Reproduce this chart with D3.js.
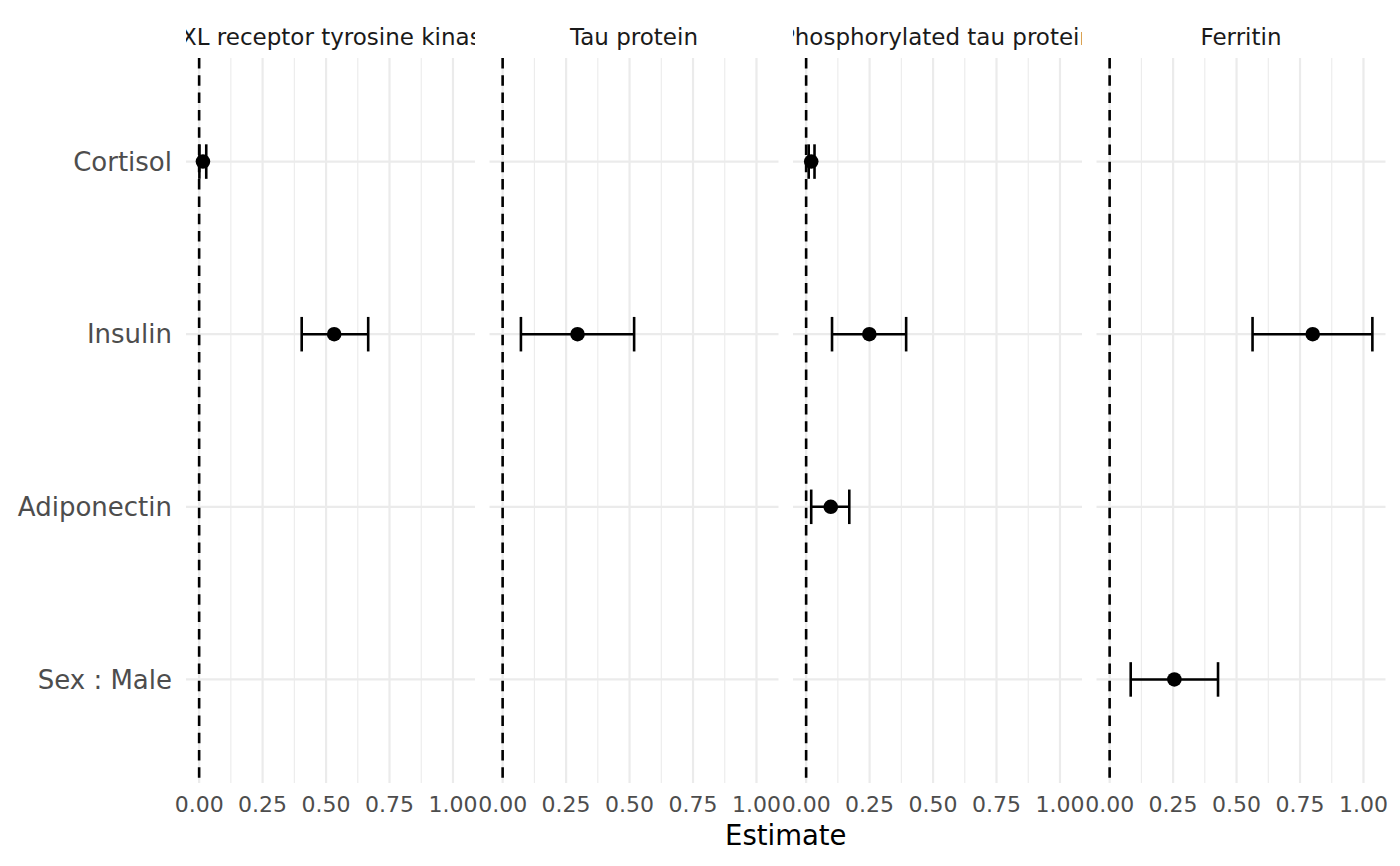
<!DOCTYPE html>
<html lang="en">
<head>
    <meta charset="UTF-8" />
    <title>Estimates by outcome</title>
    <script src="https://d3js.org/d3.v7.min.js"></script>
    <style>
        body { margin: 0; background: #fff; }
        text { font-family: "DejaVu Sans", sans-serif; }
    </style>
</head>
<body>
    <div id="chart"></div>
    <script>
// facets, terms and the estimates
var outcomes = ["AXL receptor tyrosine kinase", "Tau protein", "Phosphorylated tau protein", "Ferritin"];
var terms = ["Cortisol", "Insulin", "Adiponectin", "Sex : Male"];

var rowOutcome  = ["AXL receptor tyrosine kinase", "AXL receptor tyrosine kinase", "Tau protein",
                   "Phosphorylated tau protein", "Phosphorylated tau protein", "Phosphorylated tau protein",
                   "Ferritin", "Ferritin"];
var rowTerm     = ["Cortisol", "Insulin", "Insulin", "Cortisol", "Insulin", "Adiponectin", "Insulin", "Sex : Male"];
var rowEstimate = [0.015, 0.532, 0.295, 0.020, 0.249, 0.097, 0.800, 0.255];
var rowLower    = [0.001, 0.404, 0.072, 0.010, 0.102, 0.020, 0.563, 0.083];
var rowUpper    = [0.028, 0.666, 0.518, 0.033, 0.394, 0.170, 1.035, 0.427];

var xTicks = [0, 0.25, 0.5, 0.75, 1];
var xMinor = [0.125, 0.375, 0.625, 0.875];

var rows = rowTerm.map(function(t, i) {
    return { outcome: rowOutcome[i], term: t, est: rowEstimate[i], lo: rowLower[i], hi: rowUpper[i] };
});

var width = 1400, height = 866;
var panelLeft = 186, panelTop = 58, panelBottom = 783;
var panelW = 289, gap = 14.5;

var svg = d3.select("#chart").append("svg")
    .attr("width", width)
    .attr("height", height);

// shared x domain, ggplot style 5% expansion
var xmin = Math.min(0, d3.min(rowLower)), xmax = Math.max(0, d3.max(rowUpper));
var pad = (xmax - xmin) * 0.05;
var x = d3.scaleLinear().domain([xmin - pad, xmax + pad]).range([0, panelW]);

// discrete y with 0.6 expansion
var step = (panelBottom - panelTop) / (terms.length - 1 + 1.2);
var y = d3.scalePoint().domain(terms).range([panelTop + 0.6 * step, panelBottom - 0.6 * step]);

outcomes.forEach(function(outcome, p) {
    var x0 = panelLeft + p * (panelW + gap);
    var g = svg.append("g").attr("transform", "translate(" + x0 + ",0)");

    // minor grid
    g.selectAll(".minor").data(xMinor).enter().append("line")
        .attr("x1", function(d) { return x(d); }).attr("x2", function(d) { return x(d); })
        .attr("y1", panelTop).attr("y2", panelBottom)
        .attr("stroke", "#ebebeb").attr("stroke-width", 1.1);

    // major grid
    g.selectAll(".major").data(xTicks).enter().append("line")
        .attr("x1", function(d) { return x(d); }).attr("x2", function(d) { return x(d); })
        .attr("y1", panelTop).attr("y2", panelBottom)
        .attr("stroke", "#ebebeb").attr("stroke-width", 2.2);

    g.selectAll(".hgrid").data(terms).enter().append("line")
        .attr("x1", 0).attr("x2", panelW)
        .attr("y1", function(d) { return y(d); }).attr("y2", function(d) { return y(d); })
        .attr("stroke", "#ebebeb").attr("stroke-width", 2.2);

    // zero reference line
    g.append("line")
        .attr("x1", x(0)).attr("x2", x(0))
        .attr("y1", panelTop).attr("y2", panelBottom)
        .attr("stroke", "#000").attr("stroke-width", 2.6)
        .attr("stroke-dasharray", "10.5,6.8");

    var data = rows.filter(function(r) { return r.outcome === outcome; });
    var cap = step * 0.1;

    var eb = g.selectAll(".eb").data(data).enter().append("g");
    eb.append("line")
        .attr("x1", function(d) { return x(d.lo); }).attr("x2", function(d) { return x(d.hi); })
        .attr("y1", function(d) { return y(d.term); }).attr("y2", function(d) { return y(d.term); })
        .attr("stroke", "#000").attr("stroke-width", 2.6);
    ["lo", "hi"].forEach(function(k) {
        eb.append("line")
            .attr("x1", function(d) { return x(d[k]); }).attr("x2", function(d) { return x(d[k]); })
            .attr("y1", function(d) { return y(d.term) - cap; }).attr("y2", function(d) { return y(d.term) + cap; })
            .attr("stroke", "#000").attr("stroke-width", 2.6);
    });

    g.selectAll(".pt").data(data).enter().append("circle")
        .attr("cx", function(d) { return x(d.est); })
        .attr("cy", function(d) { return y(d.term); })
        .attr("r", 7.3)
        .attr("fill", "#000");

    // strip title, clipped to the panel width
    svg.append("clipPath").attr("id", "strip" + p)
        .append("rect").attr("x", x0).attr("y", 0).attr("width", panelW).attr("height", panelTop);
    svg.append("text")
        .attr("clip-path", "url(#strip" + p + ")")
        .attr("x", x0 + panelW / 2).attr("y", 45)
        .attr("text-anchor", "middle")
        .attr("font-size", 23)
        .attr("fill", "#1a1a1a")
        .text(outcome);

    // x tick labels
    g.selectAll(".xt").data(xTicks).enter().append("text")
        .attr("x", function(d) { return x(d); })
        .attr("y", 812)
        .attr("text-anchor", "middle")
        .attr("font-size", 22)
        .attr("fill", "#4d4d4d")
        .text(function(d) { return d3.format(".2f")(d); });
});

// y labels
svg.selectAll(".yt").data(terms).enter().append("text")
    .attr("x", 172)
    .attr("y", function(d) { return y(d); })
    .attr("dy", "0.35em")
    .attr("text-anchor", "end")
    .attr("font-size", 26)
    .attr("fill", "#4d4d4d")
    .text(function(d) { return d; });

// axis title
svg.append("text")
    .attr("x", panelLeft + (4 * panelW + 3 * gap) / 2)
    .attr("y", 845)
    .attr("text-anchor", "middle")
    .attr("font-size", 27.5)
    .attr("fill", "#000")
    .text("Estimate");
    </script>
</body>
</html>
